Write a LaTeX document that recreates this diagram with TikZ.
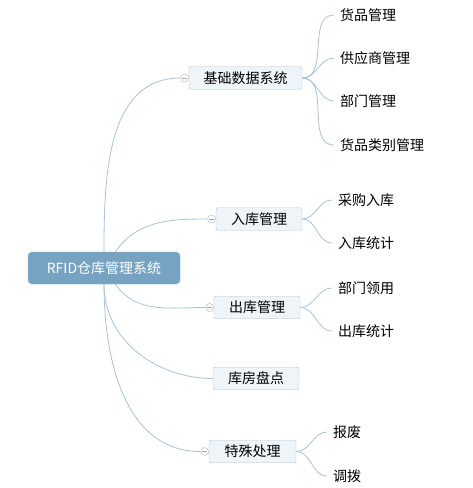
\documentclass[tikz,border=0pt]{standalone}
\usepackage{fontspec}
\setmainfont{Noto Sans CJK SC}
\usepackage{xcolor}
\usetikzlibrary{
  arrows.meta,
  positioning,
  backgrounds
}
\definecolor{rootblue}{HTML}{77A3C2}
\definecolor{boxfill}{HTML}{EFF4F8}
\definecolor{boxline}{HTML}{A9C3D7}
\definecolor{linkline}{HTML}{A8C3D8}

\begin{document}
\begin{tikzpicture}
  [
    x=1pt, y=-1pt,
    every node/.style={font=\fontsize{14}{16}\selectfont},
    root/.style={draw=rootblue!85, fill=rootblue, rounded corners=4pt, text=white,
      minimum width=152pt, minimum height=32pt, inner sep=0pt},
    branch/.style={draw=boxline, fill=boxfill, rounded corners=2pt, text=black,
      minimum width=86pt, minimum height=22.5pt, inner sep=0pt},
    leaf/.style={anchor=west, inner xsep=6pt, inner ysep=2pt},
    fold/.style={circle, draw=gray!60, fill=white, minimum size=8pt, inner sep=0pt,
      path picture={\draw[gray!70] ([xshift=1.8pt]path picture bounding box.west)
        -- ([xshift=-1.8pt]path picture bounding box.east);}},
    link/.style={draw=linkline, line width=0.8pt},
  ]
  \useasboundingbox (0,0) rectangle (473,488);
  % \draw[help lines] grid(10,10);
  \node [root] (rfid) at (104,268) {RFID仓库管理系统};

  \node [branch, minimum width=113pt] (base) at (245.5,78) {基础数据系统};
  \node [branch] (instock) at (259,219) {入库管理};
  \node [branch] (outstock) at (257,307.5) {出库管理};
  \node [branch] (check) at (256,378.5) {库房盘点};
  \node [branch, minimum width=87pt] (special) at (252.5,451.5) {特殊处理};

  \node [fold, left=0pt of base] (fbase) {};
  \node [fold, left=0pt of instock] (finstock) {};
  \node [fold, left=0pt of outstock] (foutstock) {};
  \node [fold, left=0pt of special] (fspecial) {};

  \node [leaf] (goods) at (334,15) {货品管理};
  \node [leaf] (supplier) at (334,58) {供应商管理};
  \node [leaf] (dept) at (334,101) {部门管理};
  \node [leaf] (category) at (334,145) {货品类别管理};
  \node [leaf] (purchase) at (332,200) {采购入库};
  \node [leaf] (instat) at (332,243) {入库统计};
  \node [leaf] (deptuse) at (332,288) {部门领用};
  \node [leaf] (outstat) at (332,331) {出库统计};
  \node [leaf] (scrap) at (327,432) {报废};
  \node [leaf] (transfer) at (327,476) {调拨};

  \begin{scope}[on background layer]
    \draw [link] (rfid) to[out=90, in=180] (fbase.west);
    \draw [link] (rfid) to[out=55, in=180] (finstock.west);
    \draw [link] (rfid) to[out=-55, in=180] (foutstock.west);
    \draw [link] (rfid) to[out=-90, in=180] (check.west);
    \draw [link] (rfid) to[out=-90, in=180] (fspecial.west);

    \foreach \leafname in {goods, supplier, dept, category}
      \draw [link] (base.east) to[out=0, in=180] (\leafname.west);
    \foreach \leafname in {purchase, instat}
      \draw [link] (instock.east) to[out=0, in=180] (\leafname.west);
    \foreach \leafname in {deptuse, outstat}
      \draw [link] (outstock.east) to[out=0, in=180] (\leafname.west);
    \foreach \leafname in {scrap, transfer}
      \draw [link] (special.east) to[out=0, in=180] (\leafname.west);
  \end{scope}
\end{tikzpicture}
\end{document}
